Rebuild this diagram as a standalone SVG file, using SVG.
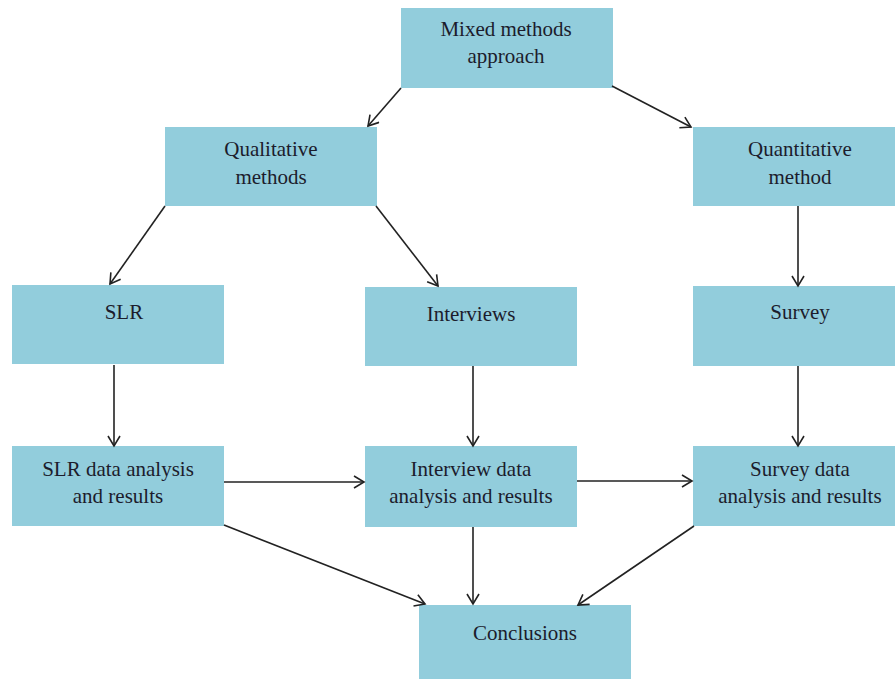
<svg xmlns="http://www.w3.org/2000/svg" width="895" height="679" viewBox="0 0 895 679">
  <style>
    .box { fill: #92CDDC; }
    .lbl { font-size: 21px; fill: #1c1c2c; }
    .edge { stroke: #222; stroke-width: 1.6; fill: none; marker-end: url(#arrow); }
  </style>
  <defs>
    <marker id="arrow" markerUnits="userSpaceOnUse" markerWidth="14" markerHeight="14" viewBox="0 0 14 14" refX="12" refY="7" orient="auto">
      <path d="M2,1 L12,7 L2,13" fill="none" stroke="#222" stroke-width="1.6"/>
    </marker>
  </defs>
  <rect width="895" height="679" fill="#fff"/>

  <!-- labels are start-anchored; x values centre each line in its box -->
  <g id="mixed">
    <rect class="box" x="401" y="8" width="212" height="80"/>
    <text class="lbl" font-family="Liberation Serif, serif" x="440.4" y="36">Mixed methods</text>
    <text class="lbl" font-family="Liberation Serif, serif" x="467.5" y="63">approach</text>
  </g>
  <g id="qualitative">
    <rect class="box" x="165" y="127" width="212" height="79"/>
    <text class="lbl" font-family="Liberation Serif, serif" x="224.3" y="156">Qualitative</text>
    <text class="lbl" font-family="Liberation Serif, serif" x="235.4" y="184">methods</text>
  </g>
  <g id="quantitative">
    <rect class="box" x="693" y="127" width="202" height="79"/>
    <text class="lbl" font-family="Liberation Serif, serif" x="748.1" y="156">Quantitative</text>
    <text class="lbl" font-family="Liberation Serif, serif" x="768.5" y="184">method</text>
  </g>
  <g id="slr">
    <rect class="box" x="12" y="285" width="212" height="79"/>
    <text class="lbl" font-family="Liberation Serif, serif" x="104.7" y="319">SLR</text>
  </g>
  <g id="interviews">
    <rect class="box" x="365" y="287" width="212" height="79"/>
    <text class="lbl" font-family="Liberation Serif, serif" x="426.7" y="321">Interviews</text>
  </g>
  <g id="survey">
    <rect class="box" x="693" y="286" width="202" height="80"/>
    <text class="lbl" font-family="Liberation Serif, serif" x="770.3" y="319">Survey</text>
  </g>
  <g id="slr-results">
    <rect class="box" x="12" y="446" width="212" height="80"/>
    <text class="lbl" font-family="Liberation Serif, serif" x="42.2" y="476">SLR data analysis</text>
    <text class="lbl" font-family="Liberation Serif, serif" x="72.8" y="503">and results</text>
  </g>
  <g id="interview-results">
    <rect class="box" x="365" y="446" width="212" height="81"/>
    <text class="lbl" font-family="Liberation Serif, serif" x="410.6" y="476">Interview data</text>
    <text class="lbl" font-family="Liberation Serif, serif" x="389.3" y="503">analysis and results</text>
  </g>
  <g id="survey-results">
    <rect class="box" x="693" y="446" width="202" height="80"/>
    <text class="lbl" font-family="Liberation Serif, serif" x="750.1" y="476">Survey data</text>
    <text class="lbl" font-family="Liberation Serif, serif" x="718.3" y="503">analysis and results</text>
  </g>
  <g id="conclusions">
    <rect class="box" x="419" y="605" width="212" height="74"/>
    <text class="lbl" font-family="Liberation Serif, serif" x="473.1" y="640">Conclusions</text>
  </g>

  <g id="connectors">
    <line class="edge" x1="401" y1="88" x2="368" y2="126"/>
    <line class="edge" x1="612" y1="86" x2="691" y2="127"/>
    <line class="edge" x1="165" y1="206" x2="110" y2="284"/>
    <line class="edge" x1="376" y1="206" x2="438" y2="286"/>
    <line class="edge" x1="798" y1="206" x2="798" y2="286"/>
    <line class="edge" x1="114" y1="365" x2="114" y2="446"/>
    <line class="edge" x1="473" y1="366" x2="473" y2="446"/>
    <line class="edge" x1="798" y1="366" x2="798" y2="446"/>
    <line class="edge" x1="224" y1="482" x2="364" y2="482"/>
    <line class="edge" x1="577" y1="481" x2="692" y2="481"/>
    <line class="edge" x1="224" y1="525" x2="425" y2="604"/>
    <line class="edge" x1="473" y1="527" x2="473" y2="604"/>
    <line class="edge" x1="694" y1="526" x2="578" y2="605"/>
  </g>
</svg>
